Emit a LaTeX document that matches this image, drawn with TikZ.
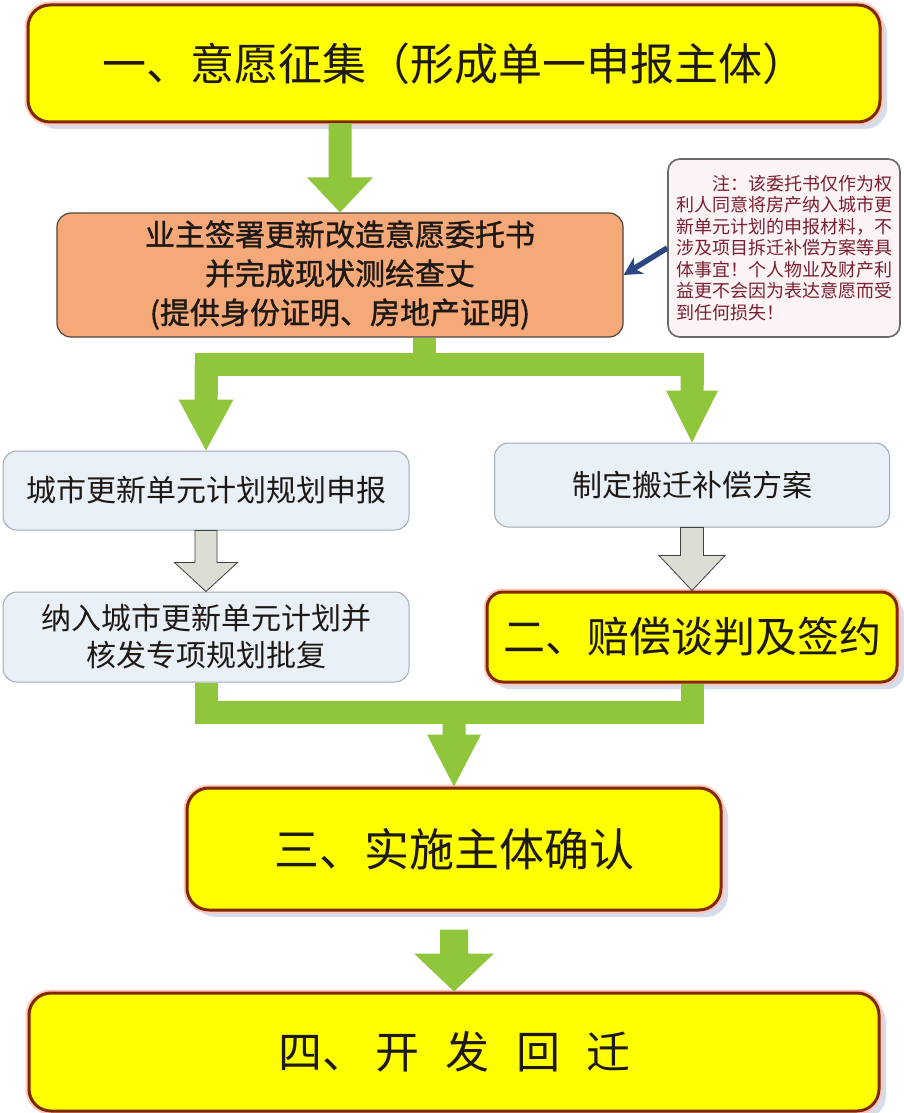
\documentclass[tikz,border=0pt]{standalone}
\usepackage{fontspec}
\newfontfamily\cjk{Noto Sans CJK SC}
\newfontfamily\cjkbold[FakeBold=1.2]{Noto Sans CJK SC}
\usetikzlibrary{calc,arrows.meta,shadows}
\definecolor{ybox}{RGB}{255,255,0}
\definecolor{ybord}{RGB}{128,40,0}
\definecolor{yglow}{RGB}{255,200,190}
\definecolor{shad}{RGB}{214,220,233}
\definecolor{obox}{RGB}{245,168,120}
\definecolor{obord}{RGB}{80,70,60}
\definecolor{lbox}{RGB}{234,240,248}
\definecolor{lbord}{RGB}{160,170,182}
\definecolor{nbox}{RGB}{252,243,245}
\definecolor{nbord}{RGB}{105,105,105}
\definecolor{ntext}{RGB}{122,32,48}
\definecolor{garrow}{RGB}{144,198,60}
\definecolor{grayarr}{RGB}{221,221,211}
\definecolor{grayout}{RGB}{64,64,64}
\definecolor{darrow}{RGB}{46,71,132}
\definecolor{txt}{RGB}{30,25,20}
% #1 style, #2 start, #3 tip, #4 shaft half width, #5 head half width, #6 head length
\newcommand\fatarrow[6]{%
  \path[#1] let \p1=(#2), \p2=(#3) in
  (\x2-#4pt,\y1) -- (\x2+#4pt,\y1) -- (\x2+#4pt,\y2+#6pt) -- (\x2+#5pt,\y2+#6pt)
  -- (\x2,\y2) -- (\x2-#5pt,\y2+#6pt) -- (\x2-#4pt,\y2+#6pt) -- cycle;}
\begin{document}
\begin{tikzpicture}[x=1pt,y=-1pt,
  ybx/.style={draw=ybord, line width=3pt, fill=ybox, rounded corners=22pt, inner sep=0pt,
    drop shadow={shadow xshift=7pt, shadow yshift=-7pt, fill=shad, opacity=1},
    preaction={draw=yglow, line width=7pt}, text=txt, align=center},
  obx/.style={draw=obord, line width=1.2pt, fill=obox, rounded corners=14pt, inner sep=0pt,
    text=txt, align=center},
  lbx/.style={draw=lbord, line width=1pt, fill=lbox, rounded corners=14pt, inner sep=0pt,
    text=txt, align=center},
  nbx/.style={draw=nbord, line width=1.6pt, fill=nbox, rounded corners=12pt, inner sep=0pt,
    text=ntext, align=left},
  gline/.style={draw=garrow, line width=23pt, line join=miter, line cap=butt},
  gfill/.style={fill=garrow},
  grayfill/.style={fill=grayarr, draw=grayout, line width=0.8pt, line join=miter},
]
\useasboundingbox (0,0) rectangle (904,1113);
\fill[white] (0,0) rectangle (904,1113);
\clip (0,0) rectangle (904,1113);

% nodes
\node[ybx, minimum width=852pt, minimum height=117pt, font={\cjk\fontsize{44}{50}\selectfont}]
  (b1) at (454,63.5) {一、意愿征集（形成单一申报主体）};
\node[obx, minimum width=566pt, minimum height=124pt, font={\cjkbold\fontsize{30}{39}\selectfont}]
  (b2) at (340,275) {业主签署更新改造意愿委托书\\并完成现状测绘查丈\\(提供身份证明、房地产证明)};
\node[nbx, minimum width=232pt, minimum height=178pt, font={\cjk\fontsize{18}{21.5}\selectfont}]
  (note) at (784,248) {\hspace*{36pt}注：该委托书仅作为权\\利人同意将房产纳入城市更\\新单元计划的申报材料，不\\涉及项目拆迁补偿方案等具\\体事宜！个人物业及财产利\\益更不会因为表达意愿而受\\到任何损失！};
\node[lbx, minimum width=406pt, minimum height=79pt, font={\cjk\fontsize{30}{36}\selectfont}]
  (L1) at (206,490.5) {城市更新单元计划规划申报};
\node[lbx, minimum width=395pt, minimum height=84pt, font={\cjk\fontsize{30}{36}\selectfont}]
  (R1) at (692,485) {制定搬迁补偿方案};
\node[lbx, minimum width=406pt, minimum height=90pt, font={\cjk\fontsize{30}{37}\selectfont}]
  (L2) at (206,637) {纳入城市更新单元计划并\\核发专项规划批复};
\node[ybx, rounded corners=16pt, minimum width=410pt, minimum height=90pt, font={\cjk\fontsize{42}{48}\selectfont}]
  (R2) at (692,637) {二、赔偿谈判及签约};
\node[ybx, minimum width=534pt, minimum height=122pt, font={\cjk\fontsize{45}{50}\selectfont}]
  (B3) at (454,849) {三、实施主体确认};
\node[ybx, minimum width=850pt, minimum height=118pt, font={\cjk\fontsize{44}{50}\selectfont}]
  (B4) at (454,1052) {四、\hspace{10pt}开\hspace{26pt}发\hspace{26pt}回\hspace{26pt}迁};

% connectors
\fatarrow{gfill}{b1.south -| b2.north}{b2.north}{11.5}{33}{35}

\coordinate (sp) at (424,364.5);
\draw[gline] (b2.south -| sp) -- (sp);
\draw[gline] ($(L1.north |- sp)+(0,30)$) -- (L1.north |- sp) -- (R1.north |- sp) -- ($(R1.north |- sp)+(0,20)$);
\fatarrow{gfill}{L1.north |- sp}{L1.north}{11.5}{27.5}{51}
\fatarrow{gfill}{R1.north |- sp}{R1.north}{11.5}{26}{52}

\fatarrow{grayfill}{L1.south}{L2.north}{11}{31.5}{29}
\fatarrow{grayfill}{R1.south}{R2.north}{11.5}{33}{35}

\coordinate (jn) at (454,712);
\draw[gline] (L2.south) -- (L2.south |- jn) -- (R2.south |- jn) -- (R2.south);
\fatarrow{gfill}{jn}{B3.north}{11.5}{27}{52}

\fatarrow{gfill}{$(B3.south)+(0,18)$}{B4.north}{14}{40}{38}

\draw[draw=darrow, line width=5.5pt, -{Stealth[length=18pt,width=19pt]}] (note.west) -- (b2.east);
\end{tikzpicture}
\end{document}
